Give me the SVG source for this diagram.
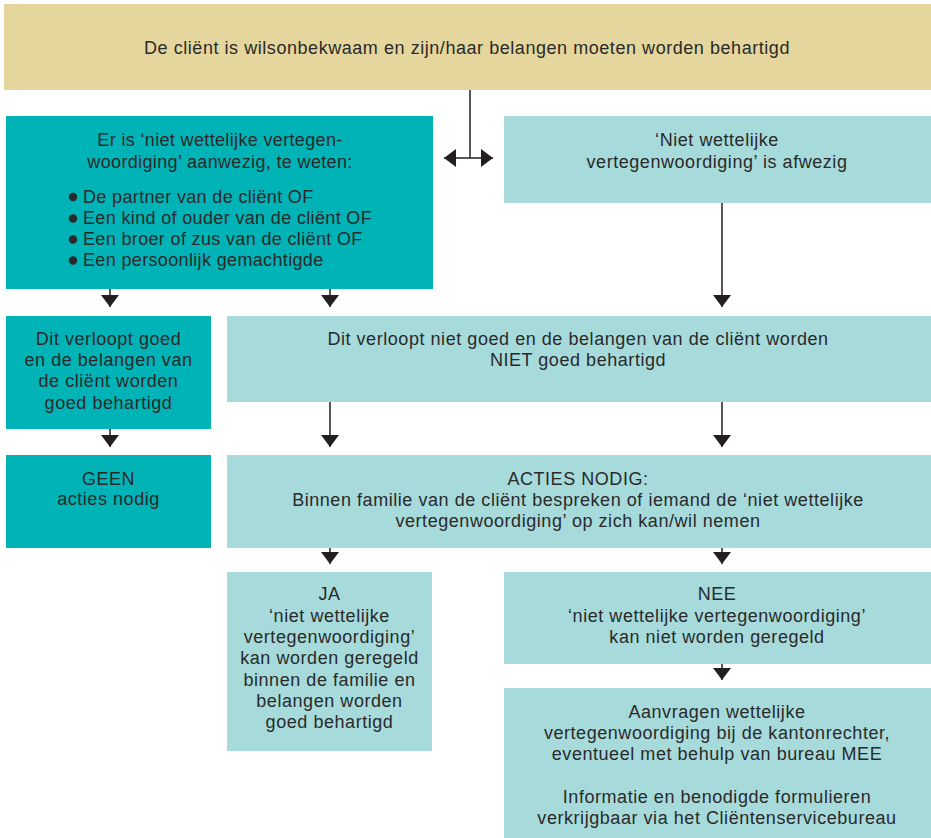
<svg xmlns="http://www.w3.org/2000/svg" width="931" height="838" viewBox="0 0 931 838">
<defs>
<marker id="ah" viewBox="0 0 12 18" refX="12" refY="9" markerWidth="12" markerHeight="18" orient="auto-start-reverse" markerUnits="userSpaceOnUse">
<path d="M0,0 L12,9 L0,18 z" fill="#231f20"/>
</marker>
<style>
.tan{fill:#e4d69c}
.teal{fill:#00b3b6}
.lt{fill:#a6dadb}
text{font-family:"Liberation Sans",Arial,sans-serif;font-size:18px;fill:#2a2a2a;letter-spacing:0.55px;text-anchor:middle}
.b1{letter-spacing:0.35px}
.l{text-anchor:start}
.c{stroke:#231f20;stroke-width:1.5;fill:none;marker-end:url(#ah)}
</style>
</defs>
<rect width="931" height="838" fill="#fff"/>

<g id="start">
<rect class="tan" x="4" y="4" width="927" height="86"/>
<text x="467" y="54">De cliënt is wilsonbekwaam en zijn/haar belangen moeten worden behartigd</text>
</g>

<g id="aanwezig">
<rect class="teal" x="6" y="116" width="427" height="173"/>
<text class="b1" x="220" y="146">Er is ‘niet wettelijke vertegen-</text>
<text class="b1" x="220" y="168">woordiging’ aanwezig, te weten:</text>
<circle cx="73" cy="197" r="4.2" fill="#2a2a2a"/>
<circle cx="73" cy="218.5" r="4.2" fill="#2a2a2a"/>
<circle cx="73" cy="239.5" r="4.2" fill="#2a2a2a"/>
<circle cx="73" cy="260.5" r="4.2" fill="#2a2a2a"/>
<text class="b1 l" x="83" y="203">De partner van de cliënt OF</text>
<text class="b1 l" x="83" y="224">Een kind of ouder van de cliënt OF</text>
<text class="b1 l" x="83" y="245">Een broer of zus van de cliënt OF</text>
<text class="b1 l" x="83" y="266">Een persoonlijk gemachtigde</text>
</g>

<g id="afwezig">
<rect class="lt" x="504" y="116" width="427" height="87"/>
<text x="717" y="146">‘Niet wettelijke</text>
<text x="717" y="168">vertegenwoordiging’ is afwezig</text>
</g>

<g id="goed">
<rect class="teal" x="6" y="316" width="205" height="113"/>
<text x="108.5" y="345">Dit verloopt goed</text>
<text x="108.5" y="366">en de belangen van</text>
<text x="108.5" y="387">de cliënt worden</text>
<text x="108.5" y="409">goed behartigd</text>
</g>

<g id="nietgoed">
<rect class="lt" x="227" y="316" width="704" height="86"/>
<text x="578" y="345">Dit verloopt niet goed en de belangen van de cliënt worden</text>
<text x="578" y="366">NIET goed behartigd</text>
</g>

<g id="geen">
<rect class="teal" x="6" y="455" width="205" height="93"/>
<text x="108.5" y="485">GEEN</text>
<text x="108.5" y="505">acties nodig</text>
</g>

<g id="acties">
<rect class="lt" x="227" y="455" width="704" height="93"/>
<text x="578" y="485">ACTIES NODIG:</text>
<text x="578" y="506">Binnen familie van de cliënt bespreken of iemand de ‘niet wettelijke</text>
<text x="578" y="527">vertegenwoordiging’ op zich kan/wil nemen</text>
</g>

<g id="ja">
<rect class="lt" x="227" y="572" width="205" height="179"/>
<text x="329.5" y="600">JA</text>
<text x="329.5" y="622">‘niet wettelijke</text>
<text x="329.5" y="643">vertegenwoordiging’</text>
<text x="329.5" y="664">kan worden geregeld</text>
<text x="329.5" y="686">binnen de familie en</text>
<text x="329.5" y="707">belangen worden</text>
<text x="329.5" y="728">goed behartigd</text>
</g>

<g id="nee">
<rect class="lt" x="504" y="572" width="427" height="92"/>
<text x="717" y="600">NEE</text>
<text x="717" y="622">‘niet wettelijke vertegenwoordiging’</text>
<text x="717" y="643">kan niet worden geregeld</text>
</g>

<g id="aanvragen">
<rect class="lt" x="504" y="688" width="427" height="150"/>
<text x="717" y="718">Aanvragen wettelijke</text>
<text x="717" y="739">vertegenwoordiging bij de kantonrechter,</text>
<text x="717" y="760">eventueel met behulp van bureau MEE</text>
<text x="717" y="803">Informatie en benodigde formulieren</text>
<text x="717" y="824">verkrijgbaar via het Cliëntenservicebureau</text>
</g>

<g id="connectors">
<line x1="470" y1="90" x2="470" y2="158" stroke="#231f20" stroke-width="1.5"/>
<line x1="444" y1="158" x2="493" y2="158" stroke="#231f20" stroke-width="1.5" marker-start="url(#ah)" marker-end="url(#ah)"/>
<line class="c" x1="110" y1="289" x2="110" y2="307"/>
<line class="c" x1="330" y1="289" x2="330" y2="307"/>
<line class="c" x1="722" y1="203" x2="722" y2="307"/>
<line class="c" x1="110" y1="429" x2="110" y2="447"/>
<line class="c" x1="330" y1="402" x2="330" y2="447"/>
<line class="c" x1="722" y1="402" x2="722" y2="447"/>
<line class="c" x1="330" y1="548" x2="330" y2="564"/>
<line class="c" x1="722" y1="548" x2="722" y2="564"/>
<line class="c" x1="722" y1="664" x2="722" y2="680"/>
</g>
</svg>
